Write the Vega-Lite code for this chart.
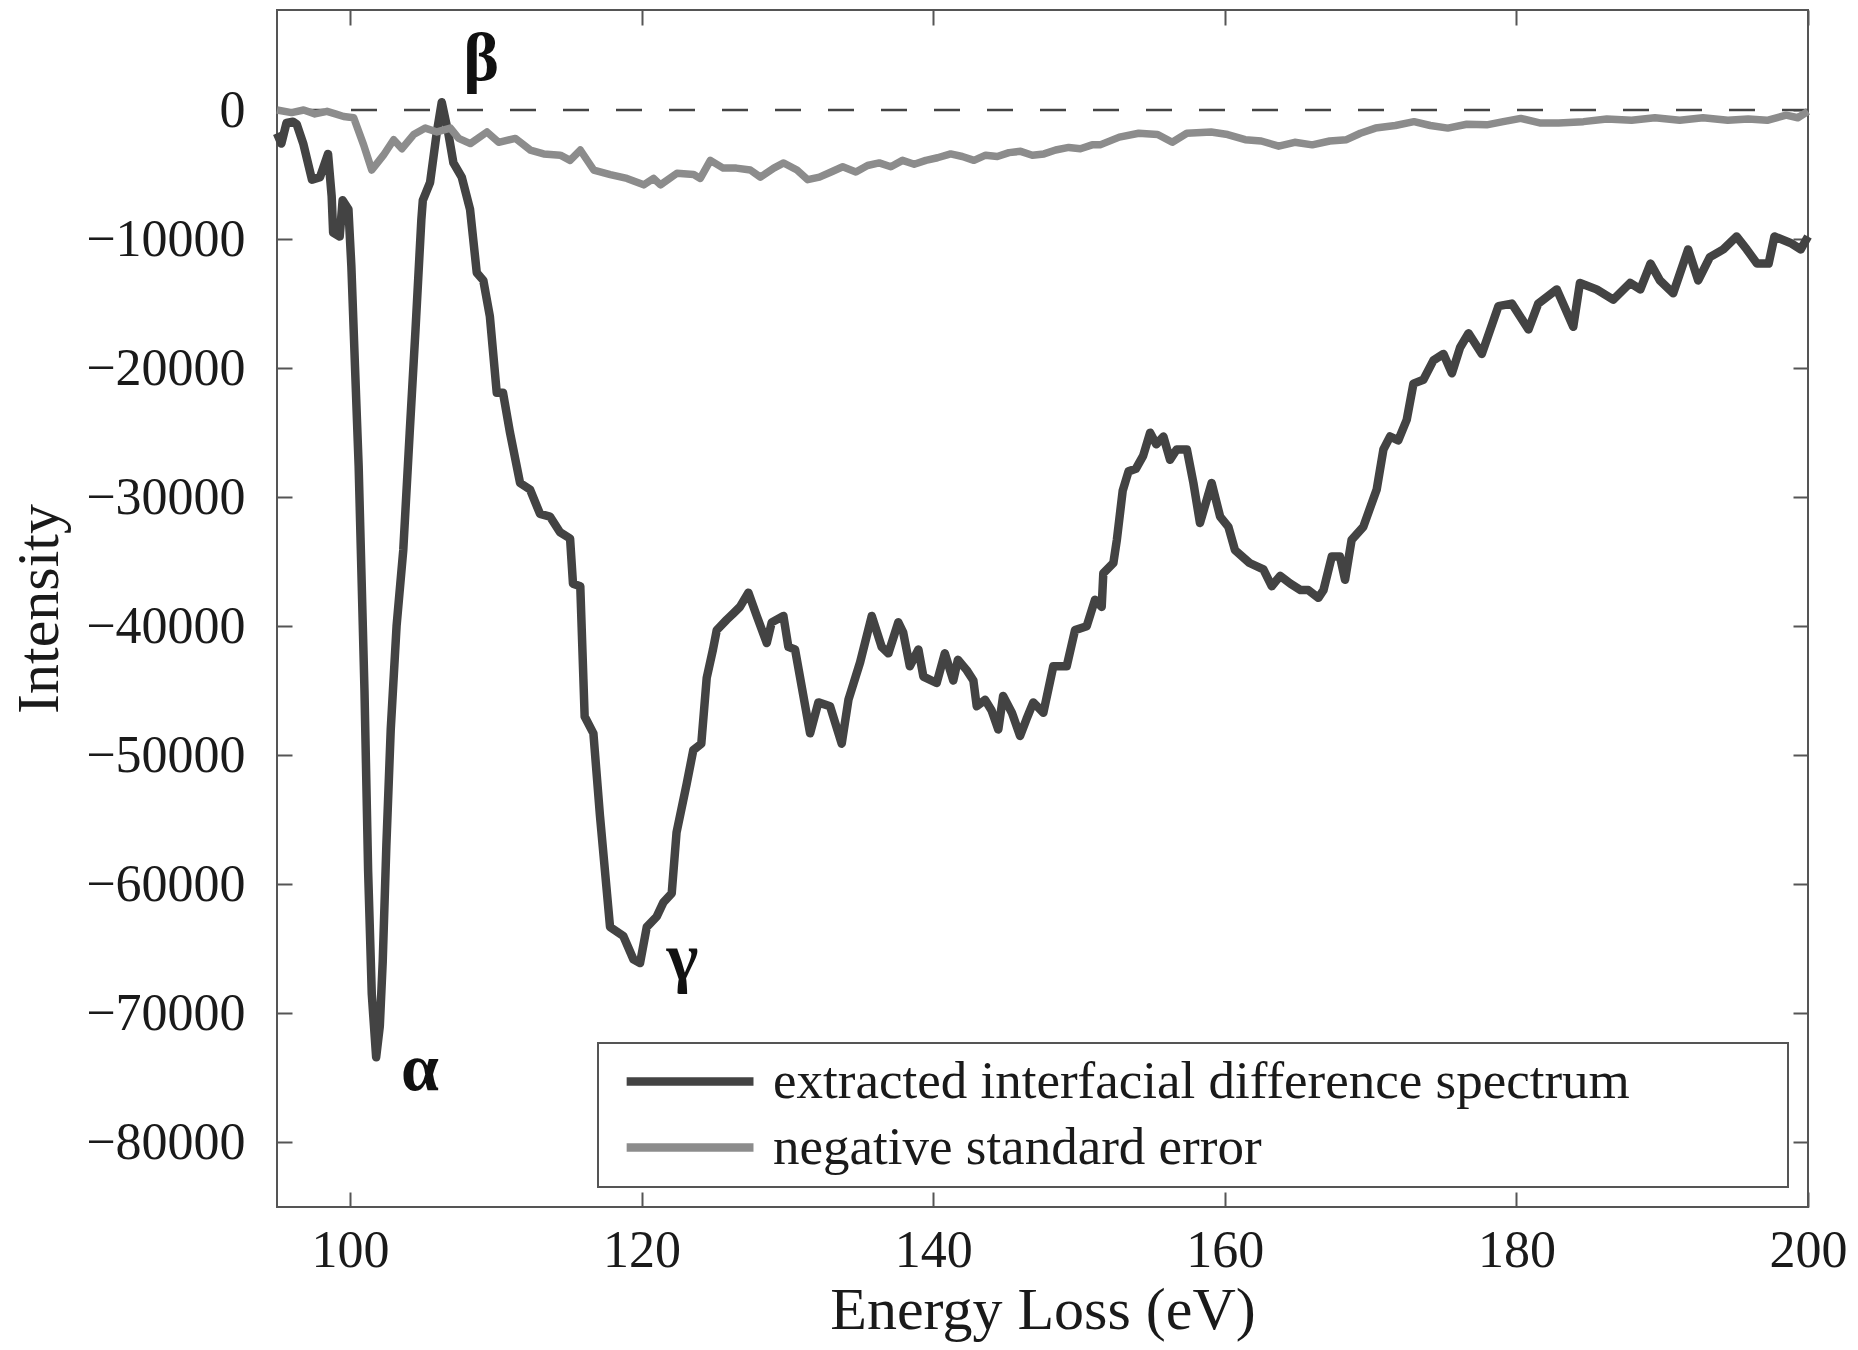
{
  "$schema": "https://vega.github.io/schema/vega-lite/v6.json",
  "width": 1531,
  "height": 1197,
  "autosize": {"type": "none"},
  "padding": {"left": 277, "top": 10, "right": 50, "bottom": 143},
  "background": "white",
  "config": {
    "view": {"stroke": "#555555", "strokeWidth": 2},
    "font": "Liberation Serif",
    "axis": {
      "labelFont": "Liberation Serif",
      "titleFont": "Liberation Serif",
      "grid": false,
      "domain": false,
      "tickColor": "#555555",
      "tickWidth": 2,
      "tickSize": -15,
      "labelColor": "#1a1a1a",
      "titleColor": "#1a1a1a",
      "labelFontSize": 52,
      "titleFontSize": 60,
      "titleFontWeight": "normal",
      "labelFlush": false,
      "labelOverlap": false,
      "labelBound": false
    },
    "legend": {
      "strokeColor": "#555555",
      "strokeWidth": 2,
      "fillColor": "white"
    }
  },
  "datasets": {
    "dark": [
      {"e":95.0,"i":-1800},{"e":95.3,"i":-2600},{"e":95.65,"i":-1000},{"e":96.1,"i":-900},{"e":96.35,"i":-1100},{"e":96.8,"i":-2600},{"e":97.4,"i":-5400},{"e":97.95,"i":-5200},{"e":98.5,"i":-3400},{"e":98.75,"i":-6700},{"e":98.85,"i":-9500},{"e":99.3,"i":-9800},{"e":99.5,"i":-7000},{"e":99.9,"i":-7700},{"e":100.1,"i":-12100},{"e":100.35,"i":-19900},{"e":100.6,"i":-27600},{"e":100.75,"i":-34100},{"e":101.0,"i":-45000},{"e":101.25,"i":-59000},{"e":101.5,"i":-68500},{"e":101.8,"i":-73400},{"e":102.05,"i":-71000},{"e":102.25,"i":-66000},{"e":102.5,"i":-57000},{"e":102.8,"i":-48000},{"e":103.2,"i":-40000},{"e":103.66,"i":-34100},{"e":104.1,"i":-25000},{"e":104.5,"i":-17000},{"e":104.9,"i":-8500},{"e":105.0,"i":-7000},{"e":105.5,"i":-5600},{"e":105.95,"i":-1800},{"e":106.3,"i":600},{"e":106.75,"i":-1800},{"e":107.1,"i":-4100},{"e":107.67,"i":-5200},{"e":108.24,"i":-7700},{"e":108.7,"i":-12600},{"e":109.15,"i":-13200},{"e":109.6,"i":-16000},{"e":110.07,"i":-21900},{"e":110.5,"i":-21900},{"e":110.98,"i":-25000},{"e":111.67,"i":-28900},{"e":112.35,"i":-29400},{"e":113.04,"i":-31300},{"e":113.72,"i":-31500},{"e":114.4,"i":-32700},{"e":115.1,"i":-33200},{"e":115.3,"i":-36700},{"e":115.8,"i":-36900},{"e":116.1,"i":-47000},{"e":116.7,"i":-48300},{"e":117.15,"i":-54700},{"e":117.84,"i":-63300},{"e":118.75,"i":-64000},{"e":119.44,"i":-65800},{"e":119.9,"i":-66100},{"e":120.36,"i":-63300},{"e":121.04,"i":-62500},{"e":121.5,"i":-61400},{"e":122.07,"i":-60700},{"e":122.4,"i":-56000},{"e":123.1,"i":-52200},{"e":123.55,"i":-49600},{"e":124.1,"i":-49100},{"e":124.47,"i":-44000},{"e":124.9,"i":-41800},{"e":125.16,"i":-40300},{"e":125.84,"i":-39500},{"e":126.3,"i":-39000},{"e":126.75,"i":-38500},{"e":127.33,"i":-37400},{"e":127.9,"i":-39200},{"e":128.59,"i":-41300},{"e":128.93,"i":-39700},{"e":129.73,"i":-39200},{"e":130.07,"i":-41600},{"e":130.53,"i":-41800},{"e":131.56,"i":-48300},{"e":132.13,"i":-45900},{"e":132.93,"i":-46200},{"e":133.73,"i":-49100},{"e":134.19,"i":-45700},{"e":134.99,"i":-42800},{"e":135.79,"i":-39200},{"e":136.47,"i":-41600},{"e":136.93,"i":-42100},{"e":137.61,"i":-39700},{"e":137.95,"i":-40500},{"e":138.4,"i":-43100},{"e":138.99,"i":-41800},{"e":139.33,"i":-43900},{"e":140.24,"i":-44400},{"e":140.8,"i":-42100},{"e":141.38,"i":-44200},{"e":141.7,"i":-42600},{"e":142.3,"i":-43400},{"e":142.76,"i":-44200},{"e":142.99,"i":-46200},{"e":143.56,"i":-45700},{"e":144.0,"i":-46500},{"e":144.47,"i":-48000},{"e":144.8,"i":-45400},{"e":145.4,"i":-46700},{"e":145.96,"i":-48500},{"e":146.4,"i":-47200},{"e":146.87,"i":-45900},{"e":147.56,"i":-46700},{"e":148.24,"i":-43100},{"e":149.16,"i":-43100},{"e":149.73,"i":-40300},{"e":150.53,"i":-40000},{"e":151.1,"i":-37950},{"e":151.56,"i":-38500},{"e":151.67,"i":-35900},{"e":152.36,"i":-35100},{"e":152.6,"i":-33300},{"e":153.0,"i":-29500},{"e":153.4,"i":-28000},{"e":153.9,"i":-27800},{"e":154.4,"i":-26800},{"e":154.88,"i":-25000},{"e":155.3,"i":-25900},{"e":155.79,"i":-25300},{"e":156.25,"i":-27100},{"e":156.7,"i":-26300},{"e":157.4,"i":-26300},{"e":157.85,"i":-28900},{"e":158.3,"i":-32000},{"e":159.1,"i":-28900},{"e":159.68,"i":-31500},{"e":160.25,"i":-32300},{"e":160.7,"i":-34100},{"e":161.7,"i":-35100},{"e":162.65,"i":-35600},{"e":163.22,"i":-36900},{"e":163.8,"i":-36100},{"e":164.5,"i":-36700},{"e":165.2,"i":-37200},{"e":165.73,"i":-37200},{"e":166.42,"i":-37800},{"e":166.77,"i":-37200},{"e":167.34,"i":-34600},{"e":167.9,"i":-34600},{"e":168.25,"i":-36400},{"e":168.7,"i":-33300},{"e":169.5,"i":-32300},{"e":170.42,"i":-29400},{"e":170.88,"i":-26300},{"e":171.34,"i":-25300},{"e":171.9,"i":-25600},{"e":172.48,"i":-24000},{"e":172.94,"i":-21200},{"e":173.62,"i":-20900},{"e":174.31,"i":-19400},{"e":175.0,"i":-18900},{"e":175.58,"i":-20400},{"e":176.14,"i":-18400},{"e":176.72,"i":-17300},{"e":177.63,"i":-18900},{"e":178.77,"i":-15200},{"e":179.69,"i":-15000},{"e":180.83,"i":-17000},{"e":181.5,"i":-15000},{"e":182.77,"i":-13900},{"e":183.9,"i":-16800},{"e":184.36,"i":-13400},{"e":185.5,"i":-13900},{"e":186.64,"i":-14700},{"e":187.8,"i":-13400},{"e":188.5,"i":-13900},{"e":189.2,"i":-11900},{"e":189.84,"i":-13200},{"e":190.75,"i":-14200},{"e":191.78,"i":-10800},{"e":192.47,"i":-13200},{"e":193.27,"i":-11400},{"e":194.19,"i":-10800},{"e":195.1,"i":-9800},{"e":195.8,"i":-10800},{"e":196.5,"i":-11900},{"e":197.3,"i":-11900},{"e":197.7,"i":-9800},{"e":198.8,"i":-10300},{"e":199.5,"i":-10800},{"e":200.0,"i":-9800}
    ],
    "light": [
      {"e":95.0,"i":0},{"e":96.0,"i":-200},{"e":96.83,"i":0},{"e":97.6,"i":-300},{"e":98.43,"i":-100},{"e":99.0,"i":-300},{"e":99.57,"i":-500},{"e":100.26,"i":-600},{"e":100.94,"i":-2700},{"e":101.5,"i":-4650},{"e":102.3,"i":-3500},{"e":103.0,"i":-2300},{"e":103.57,"i":-3000},{"e":104.37,"i":-1900},{"e":105.17,"i":-1400},{"e":105.97,"i":-1700},{"e":106.89,"i":-1400},{"e":107.46,"i":-2200},{"e":108.26,"i":-2600},{"e":109.4,"i":-1700},{"e":110.2,"i":-2500},{"e":111.35,"i":-2200},{"e":112.37,"i":-3100},{"e":113.29,"i":-3400},{"e":114.43,"i":-3500},{"e":115.1,"i":-3900},{"e":115.8,"i":-3100},{"e":116.72,"i":-4650},{"e":117.86,"i":-5000},{"e":119.0,"i":-5300},{"e":120.15,"i":-5800},{"e":120.83,"i":-5300},{"e":121.3,"i":-5800},{"e":122.43,"i":-4900},{"e":123.58,"i":-5000},{"e":124.03,"i":-5300},{"e":124.72,"i":-3900},{"e":125.6,"i":-4500},{"e":126.5,"i":-4500},{"e":127.46,"i":-4650},{"e":128.15,"i":-5200},{"e":129.07,"i":-4500},{"e":129.75,"i":-4100},{"e":130.66,"i":-4650},{"e":131.4,"i":-5400},{"e":132.2,"i":-5200},{"e":133.0,"i":-4800},{"e":133.8,"i":-4400},{"e":134.7,"i":-4800},{"e":135.5,"i":-4300},{"e":136.3,"i":-4100},{"e":137.1,"i":-4400},{"e":137.9,"i":-3900},{"e":138.7,"i":-4200},{"e":139.5,"i":-3900},{"e":140.3,"i":-3700},{"e":141.2,"i":-3400},{"e":142.0,"i":-3600},{"e":142.8,"i":-3900},{"e":143.6,"i":-3500},{"e":144.4,"i":-3600},{"e":145.2,"i":-3300},{"e":146.0,"i":-3200},{"e":146.8,"i":-3500},{"e":147.6,"i":-3400},{"e":148.4,"i":-3100},{"e":149.3,"i":-2900},{"e":150.1,"i":-3000},{"e":150.9,"i":-2700},{"e":151.45,"i":-2700},{"e":152.77,"i":-2100},{"e":154.1,"i":-1800},{"e":155.4,"i":-1900},{"e":156.4,"i":-2500},{"e":157.4,"i":-1800},{"e":159.06,"i":-1700},{"e":160.2,"i":-1900},{"e":161.4,"i":-2300},{"e":162.5,"i":-2400},{"e":163.7,"i":-2800},{"e":164.8,"i":-2500},{"e":166.0,"i":-2700},{"e":167.2,"i":-2400},{"e":168.35,"i":-2300},{"e":169.3,"i":-1800},{"e":170.34,"i":-1400},{"e":171.7,"i":-1200},{"e":172.98,"i":-900},{"e":174.1,"i":-1200},{"e":175.3,"i":-1400},{"e":176.6,"i":-1100},{"e":177.97,"i":-1150},{"e":179.1,"i":-900},{"e":180.3,"i":-650},{"e":181.6,"i":-1000},{"e":182.9,"i":-1000},{"e":184.6,"i":-900},{"e":186.2,"i":-700},{"e":187.9,"i":-800},{"e":189.5,"i":-600},{"e":191.2,"i":-800},{"e":192.8,"i":-600},{"e":194.5,"i":-800},{"e":195.9,"i":-700},{"e":197.2,"i":-800},{"e":198.5,"i":-400},{"e":199.3,"i":-600},{"e":200.0,"i":-100}
    ],
    "peaks": [
      {"e":104.8,"i":-75900,"t":"α"},
      {"e":109.0,"i":2300,"t":"β"},
      {"e":122.8,"i":-67400,"t":"γ"}
    ],
    "zero": [{"i":0}]
  },
  "layer": [
    {
      "data": {"name": "zero"},
      "mark": {"type": "rule", "color": "#444444", "strokeWidth": 2.5, "strokeDash": [26, 27]},
      "encoding": {
        "y": {"field": "i", "type": "quantitative", "axis": null}
      }
    },
    {
      "data": {"name": "dark"},
      "transform": [{"calculate": "'extracted interfacial difference spectrum'", "as": "s"}],
      "mark": {"type": "line", "strokeWidth": 8.5, "strokeJoin": "round"},
      "encoding": {
        "x": {"field": "e", "type": "quantitative",
              "scale": {"domain": [95, 200], "nice": false, "zero": false},
              "axis": {"orient": "bottom", "values": [100, 120, 140, 160, 180, 200], "title": "Energy Loss (eV)", "labelPadding": 33, "titlePadding": 5}},
        "y": {"field": "i", "type": "quantitative",
              "scale": {"domain": [-85000, 7750], "nice": false, "zero": false},
              "axis": {"orient": "left", "values": [0, -10000, -20000, -30000, -40000, -50000, -60000, -70000, -80000], "format": "d", "title": "Intensity", "labelPadding": 47, "titlePadding": 15}},
        "color": {"field": "s", "type": "nominal",
                  "scale": {"domain": ["extracted interfacial difference spectrum", "negative standard error"], "range": ["#434343", "#8c8c8c"]},
                  "legend": {"orient": "none", "legendX": 321, "legendY": 1033, "padding": 12, "title": null,
                             "symbolType": "M-0.62,0L7.37,0", "symbolSize": 1008, "symbolStrokeWidth": 8.5,
                             "labelFont": "Liberation Serif", "labelFontSize": 53, "labelColor": "#1a1a1a",
                             "labelOffset": 110, "labelLimit": 2000, "rowPadding": 12,
                             "labelExpr": "datum.label + '\u00a0\u00a0\u00a0\u00a0\u00a0\u00a0\u00a0\u00a0\u00a0\u00a0\u00a0\u200b'"}}
      }
    },
    {
      "data": {"name": "light"},
      "transform": [{"calculate": "'negative standard error'", "as": "s"}],
      "mark": {"type": "line", "strokeWidth": 7.5, "strokeJoin": "round"},
      "encoding": {
        "x": {"field": "e", "type": "quantitative",
              "axis": {"orient": "top", "values": [100, 120, 140, 160, 180, 200], "labels": false, "title": null}},
        "y": {"field": "i", "type": "quantitative",
              "axis": {"orient": "right", "values": [0, -10000, -20000, -30000, -40000, -50000, -60000, -70000, -80000], "labels": false, "title": null}},
        "color": {"field": "s", "type": "nominal"}
      }
    },
    {
      "data": {"name": "peaks"},
      "mark": {"type": "text", "font": "Liberation Serif", "fontWeight": "bold", "fontSize": 68, "align": "center", "baseline": "alphabetic", "color": "#111111"},
      "encoding": {
        "x": {"field": "e", "type": "quantitative", "axis": null},
        "y": {"field": "i", "type": "quantitative", "axis": null},
        "text": {"field": "t"}
      }
    }
  ],
  "resolve": {"axis": {"x": "independent", "y": "independent"}}
}
